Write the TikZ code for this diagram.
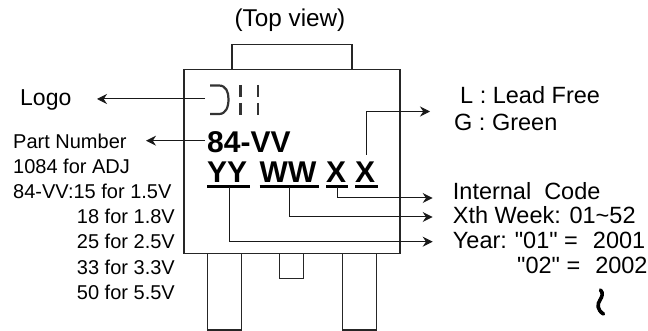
\documentclass[tikz,border=0pt]{standalone}
\usepackage{fontspec}
\newfontfamily\arialish{Liberation Sans}
\usetikzlibrary{arrows.meta}
\tikzset{
  x=1pt,y=-1pt,
  outline/.style={draw=black!85,line width=1.1pt},
  conn/.style={draw=black!90,line width=1pt},
  arr/.style={conn,-{Stealth[length=10pt,width=10pt]}},
  lbl/.style={inner sep=0pt,anchor=base west,text=black,font=\arialish\fontsize{23.5}{23.5}\selectfont},
  lblsm/.style={inner sep=0pt,anchor=base west,text=black,font=\arialish\fontsize{20}{20}\selectfont},
  lblr/.style={lblsm,anchor=base east},
  boldmark/.style={inner sep=0pt,anchor=base west,text=black,font=\arialish\fontsize{30}{30}\selectfont\bfseries},
  uline/.style={draw=black,line width=2.6pt},
}
\begin{document}
\begin{tikzpicture}
\useasboundingbox (0,0) rectangle (648,331);
% package
\draw[outline] (184,69.5) rectangle (400,253.7);
\draw[outline] (232,69.5) -- (232,44.5) -- (352,44.5) -- (352,69.5);
\draw[outline] (207.7,253.7) -- (207.7,330) -- (241.7,330) -- (241.7,253.7);
\draw[outline] (342.7,253.7) -- (342.7,330) -- (376.3,330) -- (376.3,253.7);
\draw[outline] (279.5,253.7) -- (279.5,278.7) -- (303.5,278.7) -- (303.5,253.7);
% logo glyph
\node[lbl,anchor=base,font=\arialish\fontsize{24.3}{24.3}\selectfont] (top) at (290,27) {(Top view)};
\coordinate (logoR) at (205,99);
\coordinate (partR) at (205,140.7);
\draw[draw=black!80,line width=2.2pt] (210,85.5) -- (219,85.5) .. controls (226,85.5) and (228.5,92) .. (228.5,99) .. controls (228.5,107) and (226,114) .. (219,114) -- (210,114);
\draw[draw=black!80,line width=2.6pt] (240.7,85) -- (240.7,97) (240.7,103) -- (240.7,115) (258,85) -- (258,97) (258,103) -- (258,115);
% labels
\node[lbl,font=\arialish\fontsize{23}{23}\selectfont] (logo) at (20,106) {Logo};
\node[lblsm] (pn) at (13,149) {Part Number};
\node[lblsm] at (13,174) {1084 for ADJ};
\node[lblsm] at (13,199) {84-VV:15 for 1.5V};
\node[lblr] at (175,224) {18 for 1.8V};
\node[lblr] at (175,249) {25 for 2.5V};
\node[lblr] at (175,274) {33 for 3.3V};
\node[lblr] at (175,299) {50 for 5.5V};
\node[boldmark] (vv) at (207,152.7) {84-VV};
\node[boldmark] (yy) at (207,183) {YY};
\node[boldmark] (ww) at (259.5,183) {WW};
\node[boldmark] (x1) at (326,183) {X};
\node[boldmark] (x2) at (355,183) {X};
\draw[uline] (207,186.7) -- (250,186.7);
\draw[uline] (259.5,186.7) -- (319,186.7);
\draw[uline] (326,186.7) -- (348,186.7);
\draw[uline] (355,186.7) -- (378,186.7);
\node[lbl] (lf) at (460,104) {L : Lead Free};
\node[lbl] (gr) at (454,131) {G : Green};
\node[lbl] (ic) at (452.7,199.3) {Internal\hspace{13pt}Code};
\node[lbl] (wk) at (452.7,224) {Xth Week: 01\char"7E 52};
\node[lbl] (yr) at (452.7,248) {Year:\hspace{8pt}"01" =\hspace{15pt}2001};
\node[lbl] (yr2) at (517,273) {"02" =\hspace{15pt}2002};
\draw[line width=3.6pt,line cap=round] (600.5,290) .. controls (603.5,293) and (602,297) .. (600,300) .. controls (597,304) and (597,310) .. (603.5,314);
% connectors
\draw[arr] (logoR) -- (97,99);
\draw[arr] (partR) -- (146,140.7);
\draw[arr] (366,155) |- (430,111.5);
\draw[arr] (337,186.7) |- (432.7,198);
\draw[arr] (289.5,186.7) |- (432.7,217);
\draw[arr] (229,186.7) |- (432.7,241.7);
\end{tikzpicture}
\end{document}
